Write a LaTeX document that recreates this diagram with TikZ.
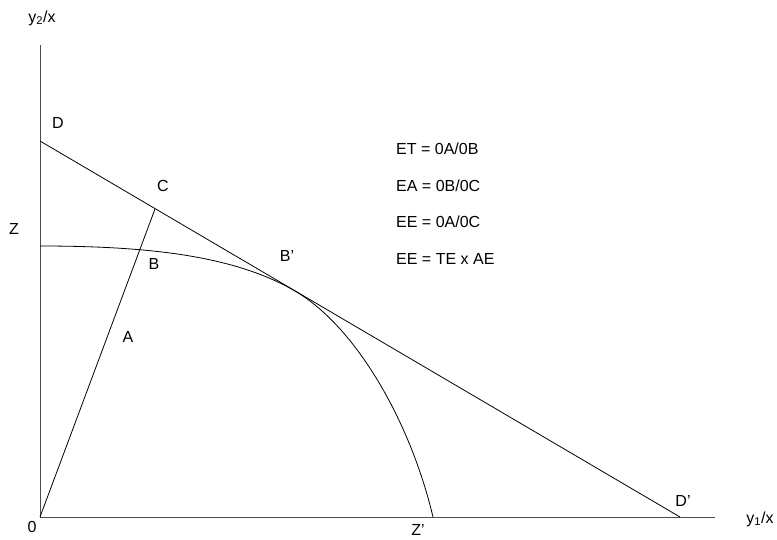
\documentclass[tikz,border=0pt]{standalone}
\usepackage{fontspec}
\setmainfont{Liberation Sans}
\begin{document}
\begin{tikzpicture}[x=1pt,y=-1pt,
  lbl/.style={font=\fontsize{16}{18}\selectfont, inner sep=0pt},
  ln/.style={line width=0.8pt, black},
  ax/.style={line width=1pt, black!70}]
\useasboundingbox (0,0) rectangle (777,539);
\coordinate (O) at (40,517);
\coordinate (Ytop) at (40,45);
\coordinate (Xend) at (715,517);
\coordinate (D) at (40,141);
\coordinate (Dp) at (680,517);
\coordinate (C) at (155,209);
\coordinate (Z) at (40,246);
\coordinate (Bp) at (295,291);
\coordinate (Zp) at (433,517);
\draw[ax] (Ytop) -- (O) -- (Xend);
\draw[ln] (D) -- (Dp);
\draw[ln] (O) -- (C);
\draw[ln] (Z) .. controls (150,246) and (235,256) .. (Bp)
          .. controls (355,326) and (410,420) .. (Zp);
\node[lbl] (ly2) at (42,18) {y\textsubscript{2}/x};
\node[lbl] (lD) at (58,123) {D};
\node[lbl] (lC) at (163,186) {C};
\node[lbl] (lZ) at (14,229) {Z};
\node[lbl] (lB) at (154,264) {B};
\node[lbl] (lA) at (128,337) {A};
\node[lbl] (lBp) at (287,256) {B'};
\node[lbl] (l0) at (32,527) {0};
\node[lbl] (lZp) at (418,530) {Z'};
\node[lbl] (lDp) at (683,501) {D'};
\node[lbl] (ly1) at (760,519) {y\textsubscript{1}/x};
\node[lbl,anchor=west] (e1) at (396,149) {ET = 0A/0B};
\node[lbl,anchor=west] (e2) at (396,186) {EA = 0B/0C};
\node[lbl,anchor=west] (e3) at (396,222) {EE = 0A/0C};
\node[lbl,anchor=west] (e4) at (396,259) {EE = TE x AE};
\end{tikzpicture}
\end{document}
